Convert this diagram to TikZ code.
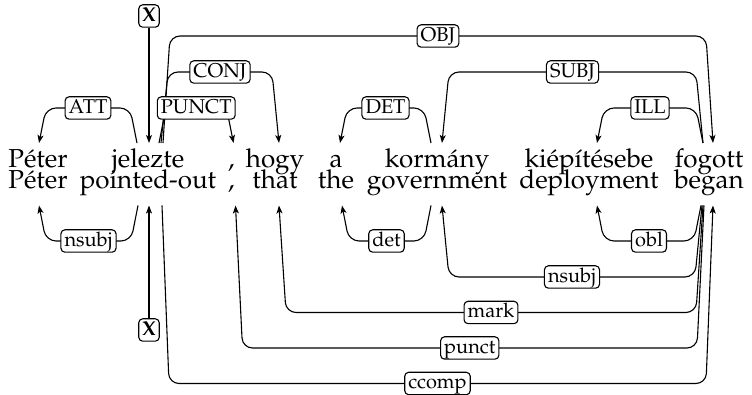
\documentclass[tikz,border=0pt]{standalone}
\usepackage[T1]{fontenc}
\usepackage{mathpazo}
\usetikzlibrary{calc,arrows.meta}

\tikzset{
  word/.style={inner sep=0pt, anchor=base, font=\fontsize{13}{15}\selectfont},
  dep/.style={draw=black, line width=0.55pt, rounded corners=5pt,
    -{Stealth[length=4pt,width=3pt,inset=1pt]}},
  lab/.style={draw=black, fill=white, line width=0.55pt, rounded corners=2pt,
    inner xsep=1.8pt, inner ysep=0.9pt, text height=7.4pt, text depth=2pt,
    font=\fontsize{10}{12}\selectfont},
}

% anchor points above the upper row and below the lower row
\newcommand\tp[3]{\coordinate (#1) at ($(#2.base)+(#3,-24.5)$);}
\newcommand\bt[3]{\coordinate (#1) at ($(#2.base)+(#3,17)$);}
% dependency arc: start, end, level, signed slant, label
\newcommand\deparc[5]{%
  \draw[dep] (#1) -- ($(#1 |- #3)+(#4,0)$)
    -- node[lab]{#5} ($(#2 |- #3)-(#4,0)$) -- (#2);}

\begin{document}
\begin{tikzpicture}[x=0.5pt,y=-0.5pt]
\useasboundingbox (0,0) rectangle (752,395);

% words: upper row Hungarian, lower row gloss
\node[word] (w1) at (38,167.5)  {P\'eter};
\node[word] (w2) at (148,167.5) {jelezte};
\node[word] (w3) at (231.5,167.5) {,};
\node[word] (w4) at (275,167.5) {hogy};
\node[word] (w5) at (336,167.5) {a};
\node[word] (w6) at (437,167.5) {korm\'any};
\node[word] (w7) at (589,167.5) {ki\'ep\'\i t\'esebe};
\node[word] (w8) at (709,167.5) {fogott};

\node[word] (g1) at (38,188.5)  {P\'eter};
\node[word] (g2) at (148,188.5) {pointed-out};
\node[word] (g3) at (231.5,188.5) {,};
\node[word] (g4) at (275,188.5) {that};
\node[word] (g5) at (336,188.5) {the};
\node[word] (g6) at (437,188.5) {government};
\node[word] (g7) at (589,188.5) {deployment};
\node[word] (g8) at (709,188.5) {began};

% arc levels
\coordinate (T1) at (0,108);
\coordinate (T2) at (0,72);
\coordinate (T3) at (0,36);
\coordinate (B1) at (0,241);
\coordinate (B2) at (0,277);
\coordinate (B3) at (0,312.5);
\coordinate (B4) at (0,348);
\coordinate (B5) at (0,383.5);

% upper anchors
\tp{ATTs}{w2}{-11} \tp{ATTe}{w1}{1}
\tp{PUNs}{w2}{11}  \tp{PUNe}{w3}{2}
\tp{CONs}{w2}{13}  \tp{CONe}{w4}{4}
\tp{OBJs}{w2}{15}  \tp{OBJe}{w8}{4}
\tp{DETs}{w6}{-6}  \tp{DETe}{w5}{4}
\tp{SUBs}{w8}{-6}  \tp{SUBe}{w6}{5}
\tp{ILLs}{w8}{-6}  \tp{ILLe}{w7}{8}
\tp{Xt}{w2}{1}

% lower anchors
\bt{nsAs}{g2}{-10} \bt{nsAe}{g1}{1}
\bt{dets}{g6}{-6}  \bt{dete}{g5}{6}
\bt{obls}{g8}{-8}  \bt{oble}{g7}{8}
\bt{nsBs}{g8}{-7}  \bt{nsBe}{g6}{5}
\bt{mrks}{g8}{-6}  \bt{mrke}{g4}{4}
\bt{pncs}{g8}{-5}  \bt{pnce}{g3}{4}
\bt{ccps}{g2}{14}  \bt{ccpe}{g8}{4}
\bt{Xb}{g2}{1}

% upper analysis
\deparc{ATTs}{ATTe}{T1}{-7}{ATT}
\deparc{OBJs}{OBJe}{T3}{7}{OBJ}
\deparc{CONs}{CONe}{T2}{7}{CONJ}
\deparc{PUNs}{PUNe}{T1}{7}{PUNCT}
\deparc{DETs}{DETe}{T1}{-7}{DET}
\deparc{SUBs}{SUBe}{T2}{-7}{SUBJ}
\deparc{ILLs}{ILLe}{T1}{-7}{ILL}
\node[lab] (xtop) at (149,16) {\textbf{X}};
\draw[dep] (xtop) -- (Xt);

% lower analysis
\deparc{nsAs}{nsAe}{B1}{-7}{nsubj}
\deparc{dets}{dete}{B1}{-7}{det}
\deparc{obls}{oble}{B1}{-7}{obl}
\deparc{nsBs}{nsBe}{B2}{-7}{nsubj}
\deparc{mrks}{mrke}{B3}{-7}{mark}
\deparc{pncs}{pnce}{B4}{-7}{punct}
\deparc{ccps}{ccpe}{B5}{7}{ccomp}
\node[lab] (xbot) at (149,330) {\textbf{X}};
\draw[dep] (xbot) -- (Xb);
\end{tikzpicture}
\end{document}
